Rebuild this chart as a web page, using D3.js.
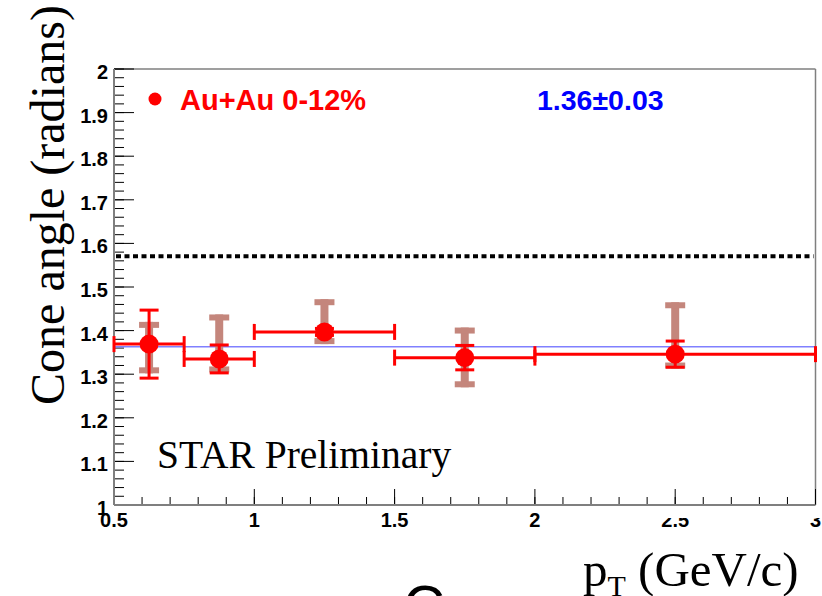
<!DOCTYPE html>
<html><head><meta charset="utf-8">
<script src="https://cdn.jsdelivr.net/npm/d3@7"></script>
<style>html,body{margin:0;padding:0;background:#fff;overflow:hidden}</style>
</head><body>
<script>
// ---- data ----
const ptCenter = [0.625, 0.875, 1.25, 1.75, 2.5];
const ptLow    = [0.5, 0.75, 1.0, 1.5, 2.0];
const ptHigh   = [0.75, 1.0, 1.5, 2.0, 3.0];
const cone     = [1.369, 1.335, 1.397, 1.338, 1.346];
const statErr  = [0.078, 0.032, 0.008, 0.028, 0.030];
const sysHigh  = [1.420, 1.437, 1.472, 1.407, 1.465];
const sysLow   = [1.302, 1.304, 1.369, 1.270, 1.313];
const fitValue = 1.363;
const refValue = Math.PI / 2;
const xTicks = [0.5, 1, 1.5, 2, 2.5, 3];
const xTickLabels = ["0.5", "1", "1.5", "2", "2.5", "3"];
const yTicks = [1, 1.1, 1.2, 1.3, 1.4, 1.5, 1.6, 1.7, 1.8, 1.9, 2];
const yTickLabels = ["1", "1.1", "1.2", "1.3", "1.4", "1.5", "1.6", "1.7", "1.8", "1.9", "2"];
const legendLabel = "Au+Au 0-12%";
const fitLabel = "1.36\u00B10.03";

const W = 822, H = 596;
const svg = d3.select("body").append("svg").attr("width", W).attr("height", H);
const x = d3.scaleLinear().domain([0.5, 3]).range([114, 815.5]);
const y = d3.scaleLinear().domain([1, 2]).range([505, 69]);
const red = "#ff0000", brown = "#c4867c", axisCol = "#7f7f7f";

const data = ptCenter.map((c, i) => ({c, lo: ptLow[i], hi: ptHigh[i], v: cone[i], e: statErr[i], sh: sysHigh[i], sl: sysLow[i]}));

// frame
svg.append("line").attr("x1", x(0.5)).attr("x2", x(3)).attr("y1", y(2)).attr("y2", y(2)).attr("stroke", axisCol).attr("stroke-width", 1.5);
svg.append("line").attr("x1", x(3)).attr("x2", x(3)).attr("y1", y(2)).attr("y2", y(1)).attr("stroke", axisCol).attr("stroke-width", 1.5);

// y axis ticks
const yMinor = d3.range(1, 2.0001, 0.02);
const gy = svg.append("g");
gy.selectAll("line.minor").data(yMinor).join("line")
  .attr("x1", x(0.5)).attr("x2", x(0.5) + 10).attr("y1", d => y(d)).attr("y2", d => y(d))
  .attr("stroke", "#000").attr("stroke-width", 1);
gy.selectAll("line.major").data(yTicks).join("line")
  .attr("x1", x(0.5)).attr("x2", x(0.5) + 20).attr("y1", d => y(d)).attr("y2", d => y(d))
  .attr("stroke", "#000").attr("stroke-width", 1);
gy.selectAll("text").data(yTicks).join("text")
  .attr("x", x(0.5) - 6).attr("y", d => y(d) + 10)
  .attr("text-anchor", "end").attr("font-family", "Liberation Sans, Arial, sans-serif")
  .attr("font-weight", "bold").attr("font-size", 20).text((d, i) => yTickLabels[i]);

// x axis ticks
const xMinor = d3.range(0.5, 3.0001, 0.1);
const gx = svg.append("g");
gx.selectAll("line.minor").data(xMinor).join("line")
  .attr("x1", d => x(d)).attr("x2", d => x(d)).attr("y1", y(1)).attr("y2", y(1) - 8)
  .attr("stroke", "#000").attr("stroke-width", 1);
gx.selectAll("line.major").data(xTicks).join("line")
  .attr("x1", d => x(d)).attr("x2", d => x(d)).attr("y1", y(1)).attr("y2", y(1) - 16)
  .attr("stroke", "#000").attr("stroke-width", 1);
gx.selectAll("text").data(xTicks).join("text")
  .attr("x", d => x(d)).attr("y", y(1) + 22)
  .attr("text-anchor", "middle").attr("font-family", "Liberation Sans, Arial, sans-serif")
  .attr("font-weight", "bold").attr("font-size", 20).text((d, i) => xTickLabels[i]);
// white patch clipping the top of the right-hand labels (as in the reference)
svg.append("rect").attr("x", x(2.15)).attr("y", y(1) + 2).attr("width", W - x(2.15)).attr("height", 11).attr("fill", "#fff");

// axis lines
svg.append("line").attr("x1", x(0.5)).attr("x2", x(0.5)).attr("y1", y(2)).attr("y2", y(1)).attr("stroke", axisCol).attr("stroke-width", 2);
svg.append("line").attr("x1", x(0.5)).attr("x2", x(3)).attr("y1", y(1)).attr("y2", y(1)).attr("stroke", axisCol).attr("stroke-width", 2);

// reference dashed line
svg.append("line").attr("x1", x(0.5) + 2).attr("x2", x(3) - 2).attr("y1", y(refValue)).attr("y2", y(refValue))
  .attr("stroke", "#000").attr("stroke-width", 4).attr("stroke-dasharray", "5,3.5");

// fit line
svg.append("line").attr("x1", x(0.5)).attr("x2", x(3)).attr("y1", y(fitValue)).attr("y2", y(fitValue))
  .attr("stroke", "#8080ff").attr("stroke-width", 1.5);

// systematic errors
const gs = svg.append("g");
data.forEach(d => {
  gs.append("line").attr("x1", x(d.c)).attr("x2", x(d.c)).attr("y1", y(d.sh)).attr("y2", y(d.sl)).attr("stroke", brown).attr("stroke-width", 8);
  [d.sh, d.sl].forEach((v, k) => {
    gs.append("rect").attr("x", x(d.c) - 10).attr("y", k === 0 ? y(v) : y(v) - 6).attr("width", 20).attr("height", 6).attr("fill", brown);
  });
});

// stat errors + x bins
const ge = svg.append("g").attr("stroke", red).attr("stroke-width", 3);
data.forEach(d => {
  ge.append("line").attr("x1", x(d.lo)).attr("x2", x(d.hi)).attr("y1", y(d.v)).attr("y2", y(d.v));
  [d.lo, d.hi].forEach(b => ge.append("line").attr("x1", x(b)).attr("x2", x(b)).attr("y1", y(d.v) - 8).attr("y2", y(d.v) + 8));
  ge.append("line").attr("x1", x(d.c)).attr("x2", x(d.c)).attr("y1", y(d.v + d.e)).attr("y2", y(d.v - d.e));
  [d.v + d.e, d.v - d.e].forEach(v => ge.append("line").attr("x1", x(d.c) - 9.5).attr("x2", x(d.c) + 9.5).attr("y1", y(v)).attr("y2", y(v)));
});
svg.append("g").selectAll("circle").data(data).join("circle")
  .attr("cx", d => x(d.c)).attr("cy", d => y(d.v)).attr("r", 9.5).attr("fill", red);

// legend
svg.append("circle").attr("cx", 155).attr("cy", 99).attr("r", 6.5).attr("fill", red);
svg.append("text").attr("x", 180).attr("y", 110).attr("font-family", "Liberation Sans, Arial, sans-serif")
  .attr("font-weight", "bold").attr("font-size", 29).attr("fill", red).text(legendLabel);
svg.append("text").attr("x", 537).attr("y", 110).attr("font-family", "Liberation Sans, Arial, sans-serif")
  .attr("font-weight", "bold").attr("font-size", 28.5).attr("fill", "#0000ff").text(fitLabel);

// STAR Preliminary
svg.append("text").attr("x", 157).attr("y", 468).attr("font-family", "Liberation Serif, Times New Roman, serif")
  .attr("font-size", 39.5).attr("fill", "#000").text("STAR Preliminary");

// axis titles
svg.append("text").attr("transform", "translate(64,205) rotate(-90)").attr("text-anchor", "middle")
  .attr("font-family", "Liberation Serif, Times New Roman, serif").attr("font-size", 48).text("Cone angle (radians)");
const xt = svg.append("text").attr("x", 583).attr("y", 586)
  .attr("font-family", "Liberation Serif, Times New Roman, serif").attr("font-size", 49);
xt.append("tspan").text("p");
xt.append("tspan").attr("font-size", 30).attr("dy", 10).text("T");
xt.append("tspan").attr("dy", -10).text(" (GeV/c)");

// partial letter at the bottom edge
svg.append("text").attr("x", 403).attr("y", 626).attr("font-family", "Liberation Sans, Arial, sans-serif")
  .attr("font-size", 58).text("C");
</script>
</body></html>
